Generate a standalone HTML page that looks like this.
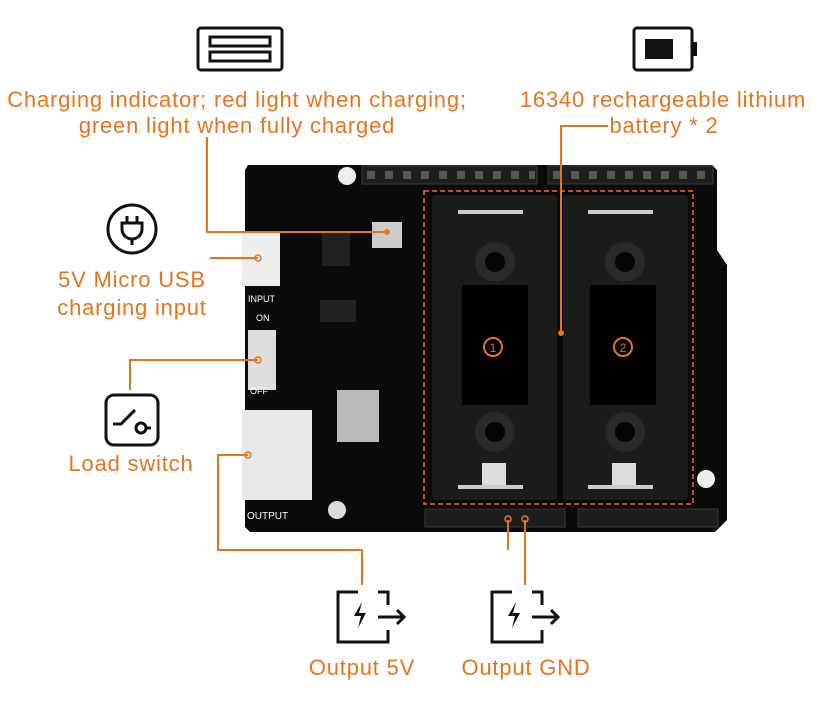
<!DOCTYPE html>
<html><head><style>
body{margin:0;width:823px;height:702px;background:#fff;overflow:hidden;font-family:"Liberation Sans",sans-serif}
.t{position:absolute;color:#e8731f;font-size:22px;letter-spacing:0.8px;text-align:center;line-height:26px;white-space:nowrap}
</style></head><body>
<svg width="823" height="702" style="position:absolute;left:0;top:0">
<path d="M248 165 L712 165 L717 170 L717 250 L727 265 L727 520 L715 532 L250 532 L245 527 L245 170 Z" fill="#0a0a0a"/>
<circle cx="347" cy="176" r="9" fill="#eee"/>
<circle cx="337" cy="510" r="9" fill="#ddd"/>
<circle cx="706" cy="479" r="9" fill="#eee"/>
<g fill="#1e1e1e" stroke="#3a3a3a">
<rect x="362" y="166" width="175" height="18"/><rect x="548" y="166" width="165" height="18"/>
<rect x="425" y="509" width="140" height="18"/><rect x="578" y="509" width="140" height="18"/>
</g>
<g fill="#555">
<rect x="367" y="171" width="8" height="8"/><rect x="385" y="171" width="8" height="8"/><rect x="403" y="171" width="8" height="8"/><rect x="421" y="171" width="8" height="8"/><rect x="439" y="171" width="8" height="8"/><rect x="457" y="171" width="8" height="8"/><rect x="475" y="171" width="8" height="8"/><rect x="493" y="171" width="8" height="8"/><rect x="511" y="171" width="8" height="8"/><rect x="529" y="171" width="6" height="8"/>
<rect x="553" y="171" width="8" height="8"/><rect x="571" y="171" width="8" height="8"/><rect x="589" y="171" width="8" height="8"/><rect x="607" y="171" width="8" height="8"/><rect x="625" y="171" width="8" height="8"/><rect x="643" y="171" width="8" height="8"/><rect x="661" y="171" width="8" height="8"/><rect x="679" y="171" width="8" height="8"/><rect x="697" y="171" width="8" height="8"/>
</g>
<rect x="432" y="195" width="125" height="305" fill="#1c1c1c" rx="4"/>
<rect x="563" y="195" width="125" height="305" fill="#1c1c1c" rx="4"/>
<rect x="462" y="285" width="66" height="120" fill="#000"/>
<rect x="590" y="285" width="66" height="120" fill="#000"/>
<circle cx="495" cy="262" r="20" fill="#2a2a2a"/><circle cx="495" cy="262" r="10" fill="#050505"/>
<circle cx="625" cy="262" r="20" fill="#2a2a2a"/><circle cx="625" cy="262" r="10" fill="#050505"/>
<circle cx="495" cy="432" r="20" fill="#2a2a2a"/><circle cx="495" cy="432" r="10" fill="#050505"/>
<circle cx="625" cy="432" r="20" fill="#2a2a2a"/><circle cx="625" cy="432" r="10" fill="#050505"/>
<rect x="458" y="210" width="65" height="4" fill="#ccc"/><rect x="588" y="210" width="65" height="4" fill="#ccc"/>
<rect x="482" y="463" width="24" height="22" fill="#ddd"/><rect x="612" y="463" width="24" height="22" fill="#ddd"/>
<rect x="458" y="485" width="65" height="4" fill="#ccc"/><rect x="588" y="485" width="65" height="4" fill="#ccc"/>
<rect x="424" y="191" width="269" height="313" fill="none" stroke="#e8731f" stroke-width="1.5" stroke-dasharray="5,3"/>
<circle cx="493" cy="347" r="9" fill="none" stroke="#e8731f" stroke-width="2"/>
<text x="493" y="352" fill="#e8731f" font-size="12" text-anchor="middle">1</text>
<circle cx="623" cy="347" r="9" fill="none" stroke="#e8731f" stroke-width="2"/>
<text x="623" y="352" fill="#e8731f" font-size="12" text-anchor="middle">2</text>
<rect x="242" y="232" width="38" height="54" fill="#eee"/>
<rect x="248" y="330" width="28" height="60" fill="#ddd"/>
<rect x="242" y="410" width="70" height="90" fill="#e8e8e8"/>
<rect x="337" y="390" width="42" height="52" fill="#bbb"/>
<rect x="322" y="232" width="28" height="34" fill="#222"/>
<rect x="320" y="300" width="36" height="22" fill="#222"/>
<rect x="372" y="222" width="30" height="26" fill="#ccc"/>
<text x="248" y="302" fill="#fff" font-size="9">INPUT</text>
<text x="256" y="321" fill="#fff" font-size="9">ON</text>
<text x="250" y="394" fill="#fff" font-size="9">OFF</text>
<text x="247" y="519" fill="#fff" font-size="10">OUTPUT</text>
<g stroke="#e8731f" stroke-width="2" fill="none">
<path d="M207 137 V232 H387"/>
<path d="M608 126 H561 V333"/>
<path d="M210 258 H258"/>
<path d="M130 390 V360 H258"/>
<path d="M362 585 V550 H218 V455 H248"/>
<path d="M508 520 V550"/>
<path d="M525 585 V520"/>
</g>
<g fill="#e8731f"><circle cx="387" cy="232" r="3"/><circle cx="561" cy="333" r="3"/></g>
<g fill="none" stroke="#e8731f" stroke-width="1.5"><circle cx="258" cy="258" r="3"/><circle cx="258" cy="360" r="3"/><circle cx="248" cy="455" r="3"/><circle cx="508" cy="519" r="3"/><circle cx="525" cy="519" r="3"/></g>
<g stroke="#111" stroke-width="3" fill="none">
<rect x="198" y="28" width="84" height="42" rx="3"/>
<rect x="210" y="37" width="60" height="9"/><rect x="210" y="52" width="60" height="9"/>
<rect x="634" y="28" width="58" height="42" rx="3"/>
<circle cx="132" cy="229" r="24"/>
<path d="M122 223 h20 v6 a10 10 0 0 1 -20 0 z M127 216 v7 M137 216 v7 M132 239 v6"/>
<rect x="106" y="395" width="52" height="50" rx="8"/>
<path d="M113 424 h8 l14 -14 M146 428 h5"/><circle cx="141" cy="428" r="5"/>
<path d="M358 592 h-20 v50 h50 v-12 M388 605 v-13 h-10 M378 617 h25 m-6 -7 l7 7 -7 7"/>
<path d="M512 592 h-20 v50 h50 v-12 M542 605 v-13 h-10 M532 617 h25 m-6 -7 l7 7 -7 7"/>
</g>
<rect x="645" y="39" width="28" height="20" fill="#111"/>
<rect x="693" y="42" width="4" height="14" fill="#111"/>
<path d="M362 602 l-8 14 h7 l-3 12 8 -15 h-7 z" fill="#111"/>
<path d="M516 602 l-8 14 h7 l-3 12 8 -15 h-7 z" fill="#111"/>
</svg>
<div class="t" style="left:-3px;top:87px;width:480px">Charging indicator; red light when charging;<br>green light when fully charged</div>
<div class="t" style="left:503px;top:87px;width:320px">16340 rechargeable lithium</div>
<div class="t" style="left:604px;top:113px;width:120px">battery * 2</div>
<div class="t" style="left:30px;top:266px;width:204px;line-height:28px">5V Micro USB<br>charging input</div>
<div class="t" style="left:46px;top:451px;width:170px">Load switch</div>
<div class="t" style="left:292px;top:655px;width:140px">Output 5V</div>
<div class="t" style="left:451px;top:655px;width:150px">Output GND</div>
</body></html>
